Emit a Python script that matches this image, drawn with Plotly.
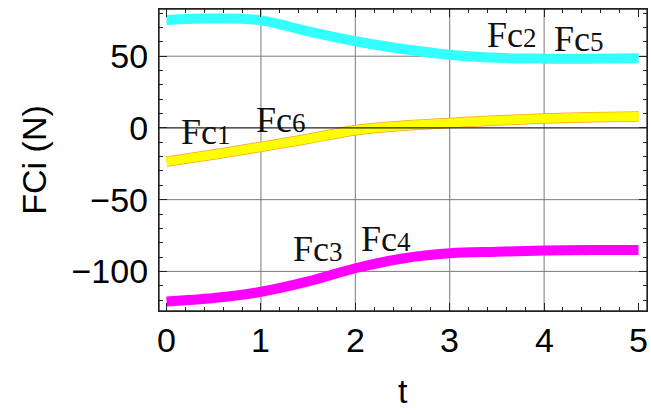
import plotly.graph_objects as go

# ---- data ----
t = [0, 0.5, 1, 1.5, 2, 2.5, 3, 3.5, 4, 4.5, 5]
fc2_fc5 = [75.3, 76.3, 75.0, 67.3, 60.4, 55.0, 51.0, 48.9, 48.3, 48.3, 48.5]     # cyan
fc1_fc6 = [-23.5, -18.5, -13.2, -7.6, -1.6, 1.5, 3.5, 5.2, 6.5, 7.4, 8.0]        # yellow / orange
fc3_fc4 = [-121.0, -118.6, -114.2, -107.0, -97.8, -91.0, -87.4, -86.3, -85.4, -85.1, -85.0]  # magenta

labels = ["1", "6", "2", "5", "3", "4"]
label_x = [0.42, 1.21, 3.66, 4.37, 1.60, 2.33]
label_y = [-2.8, 5.6, 64.8, 62.0, -84.4, -77.4]

x_ticks = [0, 1, 2, 3, 4, 5]
y_ticks = [-100, -50, 0, 50]
grid_x = [1, 2, 3, 4]
grid_y = [-100, -50, 50]

fig = go.Figure()

line_opts = dict(shape="spline", smoothing=1.0)
fig.add_trace(go.Scatter(x=t, y=fc2_fc5, mode="lines",
                         line=dict(color="#33FFFF", width=10, **line_opts), name="Fc2/Fc5"))
fig.add_trace(go.Scatter(x=t, y=fc1_fc6, mode="lines",
                         line=dict(color="#FFA020", width=10.5, **line_opts), name="Fc1"))
fig.add_trace(go.Scatter(x=t, y=fc1_fc6, mode="lines",
                         line=dict(color="#FFFF00", width=9, **line_opts), name="Fc6"))
fig.add_trace(go.Scatter(x=t, y=fc3_fc4, mode="lines",
                         line=dict(color="#FF00FF", width=10, **line_opts), name="Fc3/Fc4"))

# grid lines
for gx in grid_x:
    fig.add_shape(type="line", xref="x", yref="paper", x0=gx, x1=gx, y0=0, y1=1,
                  line=dict(color="#7a7a7a", width=1), layer="below")
for gy in grid_y:
    fig.add_shape(type="line", xref="paper", yref="y", x0=0, x1=1, y0=gy, y1=gy,
                  line=dict(color="#7a7a7a", width=1), layer="below")
# axis at y = 0 (drawn above the curves)
fig.add_shape(type="line", xref="paper", yref="y", x0=0, x1=1, y0=0, y1=0,
              line=dict(color="#222222", width=1.3), layer="above")
# frame
fig.add_shape(type="rect", xref="paper", yref="paper", x0=0, x1=1, y0=0, y1=1,
              line=dict(color="#222222", width=1.3), layer="above")

for lab, lx, ly in zip(labels, label_x, label_y):
    fig.add_annotation(x=lx, y=ly, xref="x", yref="y", showarrow=False,
                       text="Fc<span style='font-size:27px'>" + lab + "</span>",
                       font=dict(family="Liberation Sans" if False else "Liberation Serif",
                                 size=36, color="#111111"),
                       xanchor="center", yanchor="middle")

sans = dict(family="Liberation Sans", size=34, color="#000000")

# x tick labels and x title
for v in x_ticks:
    fig.add_annotation(x=v, y=0, xref="x", yref="paper", showarrow=False, text=str(v),
                       font=sans, xanchor="center", yanchor="middle", yshift=-29)
fig.add_annotation(x=0.5, y=0, xref="paper", yref="paper", showarrow=False, text="t",
                   font=sans, xanchor="center", yanchor="middle", yshift=-80)

axis_common = dict(showline=True, linecolor="#222222", linewidth=1.3, mirror="allticks",
                   ticks="inside", tickcolor="#222222", ticklen=8, tickwidth=1,
                   showgrid=False, zeroline=False, automargin=False,
                   tickfont=sans)

fig.update_layout(
    width=651, height=414,
    margin=dict(l=159, r=4, t=9, b=103),
    paper_bgcolor="white", plot_bgcolor="white",
    showlegend=False,
    xaxis=dict(range=[-0.08, 5.09], tickvals=x_ticks, showticklabels=False,
               minor=dict(dtick=0.2, ticks="inside", ticklen=4, tickcolor="#222222", showgrid=False),
               **axis_common),
    yaxis=dict(range=[-127.6, 82.9], tickvals=y_ticks,
               minor=dict(dtick=10, ticks="inside", ticklen=4, tickcolor="#222222", showgrid=False),
               title=dict(text="FCi (N)", font=sans, standoff=14),
               ticklabelstandoff=3,
               **axis_common),
)

fig.write_html("out.html", config={"displayModeBar": False},
               post_script="document.body.style.margin='0';")
